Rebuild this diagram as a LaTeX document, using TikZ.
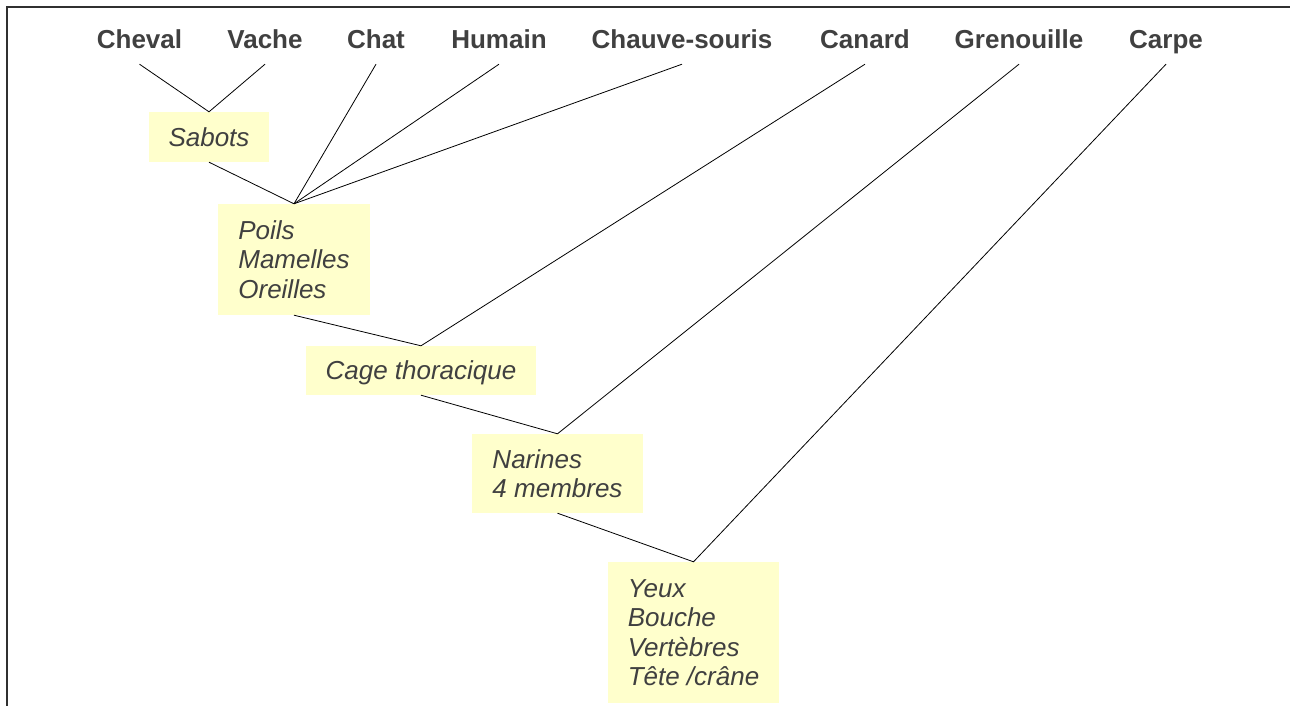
\documentclass[tikz,border=0pt]{standalone}
\usepackage{fontspec}
\setmainfont{Liberation Sans}
\usetikzlibrary{positioning}
\definecolor{txtgray}{HTML}{404040}
\definecolor{traitfill}{HTML}{FFFFCC}
\definecolor{framegray}{HTML}{303030}
\tikzset{taxon/.style={font=\fontsize{26}{30}\selectfont\bfseries,text=txtgray,anchor=base,inner ysep=15pt,text depth=0pt},
  trait/.style={font=\fontsize{26}{29.5}\selectfont\itshape,text=txtgray,fill=traitfill,align=left,inner xsep=20pt,inner ysep=0pt},
  branch/.style={black,line width=.8pt}}

\begin{document}
\begin{tikzpicture}[x=1pt,y=-1pt]
\useasboundingbox (0,0) rectangle (1290,706);
\draw[framegray,line width=2pt] (7,706) -- (7,7) -- (1290,7);
% taxons
\node[taxon] (cheval) at (139.5,49) {Cheval};
\node[taxon] (vache) at (265,49) {Vache};
\node[taxon] (chat) at (376,49) {Chat};
\node[taxon] (humain) at (499,49) {Humain};
\node[taxon] (chauve) at (682,49) {Chauve-souris};
\node[taxon] (canard) at (865,49) {Canard};
\node[taxon] (grenouille) at (1019,49) {Grenouille};
\node[taxon] (carpe) at (1166,49) {Carpe};
% caracteres
\node[trait,minimum height=50pt,text depth=0pt] (sabots) at (209,137) {Sabots};
\node[trait,minimum height=111pt] (poils) at (294,259.5) {Poils\\Mamelles\\Oreilles};
\node[trait,minimum height=49pt,text depth=0pt] (cage) at (421,370.5) {Cage thoracique};
\node[trait,minimum height=79pt] (narines) at (557.5,473.5) {Narines\\4 membres};
\node[trait,minimum height=141pt] (yeux) at (693.5,632.5) {Yeux\\Bouche\\Vertèbres\\Tête /crâne};
% branches
\draw[branch] (cheval.south) -- (sabots.north) -- (vache.south);
\draw[branch] (sabots.south) -- (poils.north);
\foreach \t in {chat,humain,chauve}
  \draw[branch] (\t.south) -- (poils.north);
\draw[branch] (poils.south) -- (cage.north) -- (canard.south);
\draw[branch] (cage.south) -- (narines.north) -- (grenouille.south);
\draw[branch] (narines.south) -- (yeux.north) -- (carpe.south);
\end{tikzpicture}
\end{document}
